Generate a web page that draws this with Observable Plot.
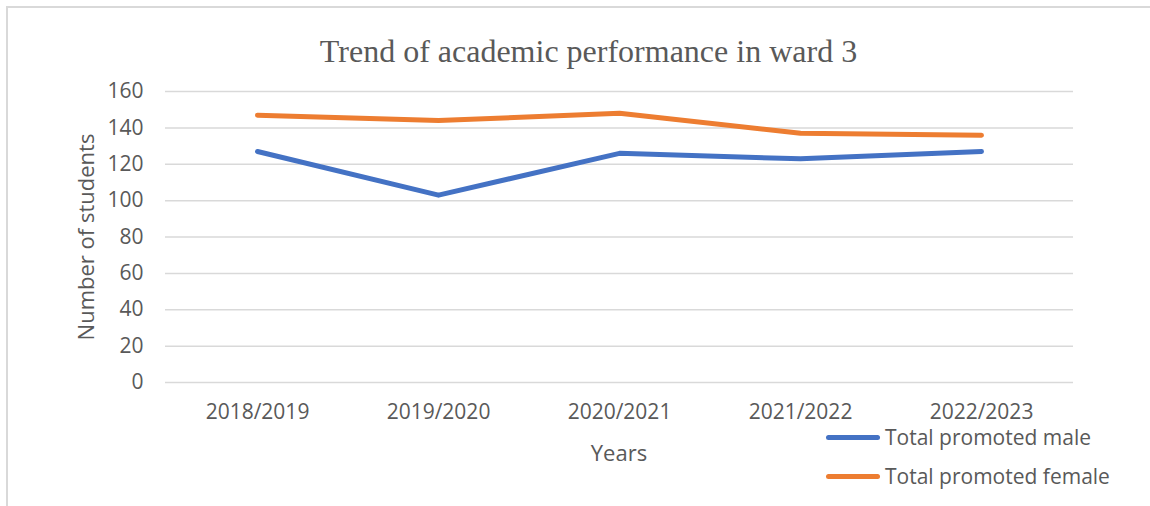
<!DOCTYPE html>
<html>
<head>
<meta charset="utf-8">
<script src="https://cdn.jsdelivr.net/npm/d3@7"></script>
<script src="https://cdn.jsdelivr.net/npm/@observablehq/plot@0.6"></script>
<style>
  html, body { margin: 0; padding: 0; background: #fff; }
  #wrap { position: relative; width: 1150px; height: 506px; overflow: hidden; background: #fff; }
  #frame { position: absolute; left: 6px; top: 6px; width: 1200px; height: 600px;
           border-top: 2px solid #d9d9d9; border-left: 2px solid #d9d9d9; }
  #chart { position: absolute; left: 0; top: 0; }
  .txt { position: absolute; color: #595959; white-space: nowrap; }
  #title { left: 0; width: 1177px; top: 33px; text-align: center; line-height: 36px;
           font-family: "Liberation Serif", "Times New Roman", serif; font-size: 32px; }
  #ylab { left: 85px; top: 237px; transform: translate(-50%, -50%) rotate(-90deg);
          font-family: "Open Sans", sans-serif; font-size: 22px; }
  #xlab { left: 619px; top: 452px; transform: translate(-50%, -50%);
          font-family: "Open Sans", sans-serif; font-size: 22px; }
  .leg { position: absolute; left: 826px; height: 24px; display: flex; align-items: center;
         font-family: "Open Sans", sans-serif; font-size: 21px; line-height: 22px;
         color: #595959; white-space: nowrap; }
  .leg .sw { width: 54px; height: 5px; border-radius: 3px; margin-right: 5px; }
</style>
</head>
<body>
<div id="wrap">
  <div id="frame"></div>
  <div id="chart"></div>
  <div id="title" class="txt">Trend of academic performance in ward 3</div>
  <div id="ylab" class="txt">Number of students</div>
  <div id="xlab" class="txt">Years</div>
  <div id="legend"></div>
</div>
<script>
const years = ["2018/2019", "2019/2020", "2020/2021", "2021/2022", "2022/2023"];
const seriesNames = ["Total promoted male", "Total promoted female"];
const seriesColors = ["#4472C4", "#ED7D31"];
const maleValues = [127, 103, 126, 123, 127];
const femaleValues = [147, 144, 148, 137, 136];
const yTicks = [0, 20, 40, 60, 80, 100, 120, 140, 160];

const data = [
  ...years.map((yr, i) => ({year: yr, value: maleValues[i], series: seriesNames[0]})),
  ...years.map((yr, i) => ({year: yr, value: femaleValues[i], series: seriesNames[1]}))
];

const chart = Plot.plot({
  width: 1150,
  height: 506,
  marginLeft: 165,
  marginRight: 77,
  marginTop: 91,
  marginBottom: 124,
  style: {fontFamily: "'Open Sans', sans-serif", color: "#595959", background: "transparent"},
  x: {type: "point", domain: years, padding: 0.5, label: null},
  y: {domain: [0, 160], label: null},
  color: {domain: seriesNames, range: seriesColors},
  marks: [
    Plot.gridY(yTicks, {stroke: "#d9d9d9", strokeOpacity: 1, strokeWidth: 1.5}),
    Plot.axisY(yTicks, {tickSize: 0, tickPadding: 22, fontSize: 21, label: null}),
    Plot.axisX({tickSize: 0, tickPadding: 22, fontSize: 21, label: null}),
    Plot.line(data, {x: "year", y: "value", z: "series", stroke: "series",
      strokeWidth: 5, strokeLinecap: "round", strokeLinejoin: "round"})
  ]
});
document.getElementById("chart").appendChild(chart);

const legend = document.getElementById("legend");
const legendTops = [425, 464];
seriesNames.forEach((name, i) => {
  const row = document.createElement("div");
  row.className = "leg";
  row.style.top = legendTops[i] + "px";
  const sw = document.createElement("div");
  sw.className = "sw";
  sw.style.background = seriesColors[i];
  const t = document.createElement("span");
  t.textContent = name;
  row.appendChild(sw);
  row.appendChild(t);
  legend.appendChild(row);
});
</script>
</body>
</html>
